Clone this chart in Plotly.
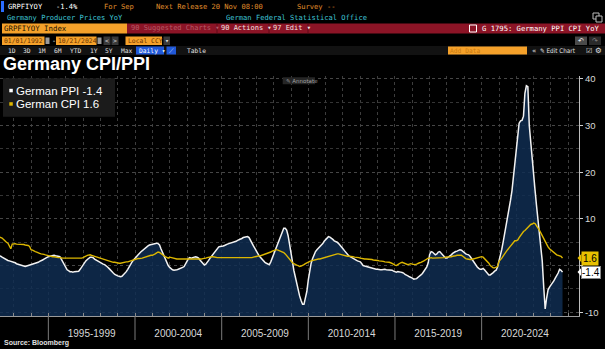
import plotly.graph_objects as go
import pandas as pd

# ---------------- data (monthly, Jan 1992 .. Sep 2024) ----------------
START = "1992-01-01"
PPI = [
    2.4, 2.3, 2.2, 2.0, 1.8, 1.6, 1.4, 1.2, 1.1, 1.0, 0.9, 0.9,          # 1992
    0.8, 0.6, 0.4, 0.3, 0.1, 0.0, -0.1, -0.2, -0.2, -0.1, 0.0, 0.0,      # 1993
    0.1, 0.2, 0.3, 0.4, 0.5, 0.7, 0.9, 1.0, 1.2, 1.4, 1.6, 1.8,          # 1994
    1.9, 2.0, 2.1, 2.2, 2.2, 2.1, 2.0, 1.9, 1.9, 1.4, 0.8, 0.1,          # 1995
    -0.5, -0.9, -1.1, -1.3, -1.3, -1.4, -1.3, -1.3, -1.3, -1.2, -0.8, -0.3,  # 1996
    0.2, 0.6, 1.0, 1.3, 1.6, 1.8, 1.8, 1.7, 1.4, 1.2, 1.1, 0.9,          # 1997
    0.7, 0.5, 0.3, 0.2, 0.0, -0.3, -0.6, -1.0, -1.3, -1.6, -1.9, -2.1,   # 1998
    -2.2, -2.3, -2.4, -2.3, -2.0, -1.6, -1.3, -0.8, -0.2, 0.3, 0.8, 1.2, # 1999
    1.5, 1.9, 2.3, 2.6, 2.9, 3.2, 3.4, 3.6, 3.9, 4.2, 4.4, 4.5,          # 2000
    4.6, 4.7, 4.8, 4.8, 4.7, 4.4, 3.6, 2.8, 2.0, 1.2, 0.5, 0.0,          # 2001
    -0.4, -0.7, -0.9, -1.0, -1.0, -0.9, -0.8, -0.7, -0.5, -0.4, -0.2, 0.4,  # 2002
    1.0, 1.5, 1.7, 1.6, 1.7, 1.8, 1.9, 1.8, 1.6, 1.2, 0.8, 0.4,          # 2003
    0.1, 0.3, 0.6, 1.1, 1.6, 2.0, 2.3, 2.7, 3.1, 3.6, 4.0, 4.1,          # 2004
    4.1, 4.2, 4.3, 4.5, 4.6, 4.7, 4.8, 4.8, 4.9, 5.0, 5.2, 5.4,          # 2005
    5.5, 5.7, 5.8, 6.0, 6.1, 6.2, 6.2, 6.0, 5.5, 4.8, 4.2, 3.6,          # 2006
    3.0, 2.6, 2.1, 1.7, 1.3, 1.0, 0.7, 0.5, 0.3, 0.2, 0.8, 1.6,          # 2007
    2.6, 3.4, 4.2, 5.0, 5.9, 6.8, 7.6, 8.0, 8.0, 7.6, 6.4, 4.8,          # 2008
    2.8, 0.8, -1.0, -2.6, -4.0, -5.2, -6.5, -7.5, -8.3, -8.3, -7.0, -5.5,  # 2009
    -3.0, -1.0, 0.5, 1.5, 2.3, 3.0, 3.4, 3.7, 4.0, 4.3, 4.7, 5.2,        # 2010
    5.6, 6.0, 6.2, 6.1, 5.9, 5.6, 5.3, 5.2, 5.0, 4.7, 4.4, 4.1,          # 2011
    3.6, 3.2, 2.8, 2.4, 2.1, 1.9, 1.7, 1.6, 1.4, 1.2, 1.0, 0.9,          # 2012
    0.8, 0.4, 0.0, -0.1, -0.2, -0.3, -0.4, -0.5, -0.6, -0.7, -0.8, -0.8, # 2013
    -0.8, -0.9, -0.9, -0.9, -0.8, -0.8, -0.9, -0.9, -0.9, -1.0, -1.0, -1.2,  # 2014
    -1.3, -1.4, -1.3, -1.3, -1.4, -1.5, -1.6, -1.9, -2.0, -2.2, -2.4, -2.5,  # 2015
    -2.7, -2.9, -2.9, -2.8, -2.5, -2.3, -2.0, -1.7, -1.3, -0.8, -0.3, 0.6,   # 2016
    2.4, 3.0, 2.9, 2.6, 2.3, 2.5, 2.9, 3.0, 2.6, 2.2, 1.8, 1.6,          # 2017
    1.6, 1.8, 2.0, 2.3, 2.6, 2.9, 3.0, 3.1, 3.2, 3.4, 3.3, 3.0,          # 2018
    2.6, 2.5, 2.4, 2.3, 2.0, 1.5, 1.0, 0.5, 0.0, -0.3, -0.6, -0.8,       # 2019
    -0.8, -0.6, -0.9, -1.3, -1.8, -2.0, -2.0, -1.8, -1.5, -1.2, -1.0, -0.3,  # 2020
    1.0, 2.0, 3.5, 5.2, 6.8, 8.4, 10.2, 12.0, 14.0, 16.0, 19.0, 22.5,    # 2021
    25.5, 28.5, 30.5, 31.0, 31.1, 32.0, 36.9, 38.5, 38.3, 30.0, 26.0, 22.5,  # 2022
    19.0, 16.0, 13.0, 10.0, 7.0, 4.5, 1.0, -4.5, -9.3, -7.0, -5.2, -4.6, # 2023
    -4.2, -3.7, -3.3, -2.7, -2.2, -1.6, -0.8, -1.0, -1.4,                # 2024
]
CPI = [
    6.3, 6.2, 6.1, 6.0, 5.9, 5.6, 5.2, 5.0, 4.8, 4.2, 3.6, 4.6,          # 1992
    4.7, 4.7, 4.6, 4.6, 4.6, 4.5, 4.5, 4.5, 4.4, 4.4, 4.3, 4.1,          # 1993
    3.4, 3.3, 3.1, 3.0, 2.9, 2.7, 2.6, 2.5, 2.5, 2.4, 2.3, 2.2,          # 1994
    2.1, 2.0, 2.0, 1.9, 1.9, 1.8, 1.8, 1.7, 1.7, 1.6, 1.6, 1.6,          # 1995
    1.6, 1.6, 1.5, 1.5, 1.5, 1.5, 1.5, 1.5, 1.5, 1.5, 1.5, 1.6,          # 1996
    1.7, 1.8, 2.0, 2.2, 2.3, 2.3, 2.2, 2.1, 2.0, 1.8, 1.7, 1.6,          # 1997
    1.5, 1.4, 1.3, 1.2, 1.1, 1.1, 1.0, 0.9, 0.8, 0.7, 0.7, 0.6,          # 1998
    0.6, 0.5, 0.5, 0.6, 0.6, 0.7, 0.8, 0.8, 0.9, 1.0, 1.1, 1.3,          # 1999
    1.3, 1.4, 1.5, 1.5, 1.5, 1.6, 1.7, 1.8, 2.0, 2.1, 2.2, 2.2,          # 2000
    2.2, 2.3, 2.5, 2.7, 2.9, 2.8, 2.5, 2.3, 2.1, 1.9, 1.7, 1.6,          # 2001
    1.8, 1.7, 1.6, 1.5, 1.4, 1.4, 1.4, 1.4, 1.3, 1.3, 1.3, 1.3,          # 2002
    1.4, 1.4, 1.4, 1.3, 1.3, 1.3, 1.3, 1.3, 1.3, 1.4, 1.4, 1.5,          # 2003
    1.5, 1.6, 1.7, 1.8, 1.9, 1.9, 1.9, 1.8, 1.8, 1.7, 1.7, 1.7,          # 2004
    1.7, 1.7, 1.6, 1.6, 1.6, 1.6, 1.7, 1.7, 1.7, 1.7, 1.6, 1.6,          # 2005
    1.6, 1.6, 1.6, 1.6, 1.7, 1.7, 1.7, 1.7, 1.6, 1.7, 1.8, 1.9,          # 2006
    2.0, 2.1, 2.1, 2.1, 2.2, 2.3, 2.4, 2.5, 2.6, 2.7, 2.9, 3.1,          # 2007
    3.2, 3.3, 3.4, 3.3, 3.2, 3.1, 3.0, 2.8, 2.5, 2.1, 1.7, 1.2,          # 2008
    0.8, 0.6, 0.4, 0.2, 0.1, 0.0, -0.2, -0.1, 0.0, 0.2, 0.4, 0.6,        # 2009
    0.8, 0.9, 1.0, 1.1, 1.2, 1.2, 1.3, 1.4, 1.4, 1.5, 1.6, 1.6,          # 2010
    1.7, 1.8, 2.0, 2.1, 2.2, 2.3, 2.3, 2.4, 2.5, 2.5, 2.4, 2.3,          # 2011
    2.2, 2.2, 2.1, 2.0, 2.0, 2.0, 1.9, 1.9, 1.8, 1.8, 1.7, 1.7,          # 2012
    1.6, 1.5, 1.5, 1.4, 1.4, 1.4, 1.3, 1.3, 1.3, 1.2, 1.2, 1.1,          # 2013
    1.1, 1.0, 1.0, 0.9, 0.9, 0.8, 0.8, 0.7, 0.7, 0.6, 0.5, 0.3,          # 2014
    0.1, 0.0, 0.2, 0.5, 0.6, 0.7, 0.6, 0.5, 0.3, 0.2, 0.3, 0.4,          # 2015
    0.3, 0.2, 0.2, 0.3, 0.5, 0.6, 0.7, 0.8, 1.0, 1.2, 1.4, 1.6,          # 2016
    1.6, 1.7, 1.6, 1.6, 1.6, 1.7, 1.7, 1.7, 1.7, 1.7, 1.7, 1.8,          # 2017
    1.8, 1.8, 1.8, 1.9, 2.0, 2.0, 2.1, 2.2, 2.2, 2.3, 2.2, 2.0,          # 2018
    1.7, 1.5, 1.4, 1.3, 1.3, 1.3, 1.4, 1.5, 1.5, 1.6, 1.7, 1.8,          # 2019
    1.9, 1.8, 1.5, 1.2, 0.8, 0.5, 0.0, -0.3, -0.5, -0.5, -0.4, -0.2,     # 2020
    0.9, 1.2, 1.6, 2.1, 2.6, 3.0, 3.4, 3.8, 4.2, 4.6, 5.0, 5.3,          # 2021
    5.3, 5.5, 6.0, 6.5, 7.0, 7.3, 7.5, 7.8, 8.3, 8.6, 8.8, 8.9,          # 2022
    9.1, 9.0, 8.6, 8.1, 7.6, 7.0, 6.4, 5.8, 5.0, 4.4, 4.0, 3.6,          # 2023
    3.3, 3.0, 2.8, 2.5, 2.3, 2.2, 2.1, 2.0, 1.6,                         # 2024
]
PPI_NAME = "German PPI"
CPI_NAME = "German CPI"
BAND_STARTS = [1995, 2000, 2005, 2010, 2015, 2020]
BAND_LABELS = ["1995-1999", "2000-2004", "2005-2009", "2010-2014", "2015-2019", "2020-2024"]
Y_TICKS = [-10, 0, 10, 20, 30, 40]
Y_TICK_TEXT = ["-10", "", "10", "20", "30", "40"]
Y_RANGE = [-10.8, 40.6]
X_RANGE = ["1992-03-18", "2025-08-14"]

# ---------------- geometry helpers ----------------
W, H = 605, 349
ML, MR, MT, MB = 0, 26, 76, 33
PW, PH = W - ML - MR, H - MT - MB


def P(px):
    return (px - ML) / PW


def Q(py):
    return (H - MB - py) / PH


ppi_dates = pd.date_range(START, periods=len(PPI), freq="MS")
cpi_dates = pd.date_range(START, periods=len(CPI), freq="MS")

NAVY = "rgba(15,45,82,0.84)"
YEL = "#dcb600"
WHITE = "#f2f2f2"
AMBER = "#e0902c"
CYAN = "#3fc4d6"
ORANGE = "#f5a12a"
RED = "#8c1426"
MONO = "DejaVu Sans Mono"
SANS = "Liberation Sans"

fig = go.Figure()
fig.add_trace(go.Scatter(x=ppi_dates, y=[Y_RANGE[0]] * len(PPI), mode="lines",
                         line=dict(width=0, color="rgba(0,0,0,0)"), hoverinfo="skip",
                         showlegend=False))
fig.add_trace(go.Scatter(x=ppi_dates, y=PPI, mode="lines", name=PPI_NAME,
                         line=dict(color=WHITE, width=1.5), fill="tonexty",
                         fillcolor=NAVY, showlegend=False))
fig.add_trace(go.Scatter(x=cpi_dates, y=CPI, mode="lines", name=CPI_NAME,
                         line=dict(color=YEL, width=1.4), showlegend=False))

shapes = []
annos = []


def box(x0, y0, x1, y1, color, line=None):
    shapes.append(dict(type="rect", xref="paper", yref="paper",
                       x0=P(x0), x1=P(x1), y0=Q(y1), y1=Q(y0),
                       fillcolor=color, line=dict(width=0) if line is None else line,
                       layer="above"))


def txt(x, y, s, color, size=7.1, family=MONO, anchor="left", bold=False):
    if bold:
        s = "<b>" + s + "</b>"
    annos.append(dict(xref="paper", yref="paper", x=P(x), y=Q(y), text=s,
                      showarrow=False, xanchor=anchor, yanchor="middle",
                      font=dict(color=color, size=size, family=family),
                      borderpad=0))


# ----- row 1 -----
box(1, 1, 4, 12, "#2a6cff")
txt(6.5, 6.7, "GRPFIYOY", "#ffffff")
txt(55, 6.7, "-1.4%", "#ffffff")
txt(102.5, 6.7, "For Sep", AMBER)
txt(155, 6.7, "Next Release 20 Nov 08:00", AMBER)
txt(296, 6.7, "Survey --", AMBER)
# ----- row 2 -----
txt(6, 17.3, "Germany Producer Prices YoY", CYAN)
txt(225, 17.3, "German Federal Statistical Office", CYAN)
box(593, 13, 599, 19, "rgba(0,0,0,0)", line=dict(color="#bbbbbb", width=1))
box(596, 16, 602, 22, "#000000", line=dict(color="#bbbbbb", width=1))
# ----- row 3 -----
box(2, 23.5, 127, 33.5, ORANGE)
txt(3, 28.5, "GRPFIYOY Index", "#1a1200", size=7.4)
box(127, 23.5, 605, 33.5, RED)
txt(130, 28.5, "90 Suggested Charts ▾", "#b55a67", size=7)
for xd in [216.5, 268.5, 307.5]:
    box(xd, 23.5, xd + 1, 33.5, "#5e0a17")
txt(219.5, 28.5, "90 Actions ▾", "#f3e0e0", size=7)
txt(271.5, 28.5, "97 Edit ▾", "#f3e0e0", size=7)
box(469.5, 25, 476.5, 32, "rgba(0,0,0,0)", line=dict(color="#ffffff", width=1))
txt(481, 28.5, "G 1795: Germany PPI CPI YoY", "#ffffff", size=7.2)
# ----- row 4 -----
box(2, 36.5, 44.5, 45, ORANGE)
txt(3, 40.8, "01/01/1992", "#6a3300", size=6.4)
box(45.5, 37.5, 49.5, 44, "#9a9a9a")
txt(51, 40.8, "-", "#ffffff", size=6.8)
box(56, 36.5, 96.5, 45, ORANGE)
txt(57, 40.8, "10/21/2024", "#6a3300", size=6.4)
box(97.5, 37.5, 101.5, 44, "#9a9a9a")
box(103.5, 36.5, 110.5, 45, "#3a3a3a")
txt(107, 40.8, "<", "#dddddd", size=6.5, anchor="center")
box(111.5, 36.5, 118.5, 45, "#3a3a3a")
txt(115, 40.8, ">", "#dddddd", size=6.5, anchor="center")
box(125.5, 36.5, 162, 45, ORANGE)
txt(126.5, 40.8, "Local CCY", "#6a3300", size=6.4)
box(163.5, 36.5, 170, 45, "#3a3a3a")
txt(166.8, 40.8, "▾", "#dddddd", size=6.5, anchor="center")
box(575, 36.5, 587, 45, "#4a4a4a")
txt(581, 40.8, "↶", "#ffffff", size=7, family="DejaVu Sans", anchor="center")
box(589, 36.5, 601, 45, "#2a2a2a")
txt(595, 40.8, "↷", "#888888", size=7, family="DejaVu Sans", anchor="center")
# ----- row 5 -----
box(0, 46, 605, 55, "#121212")
for lbl, xx in [("1D", 7), ("3D", 21.5), ("1M", 36.5), ("6M", 52.5), ("YTD", 69),
                ("1Y", 88.5), ("5Y", 103.5), ("Max", 119.5)]:
    txt(xx, 50.5, lbl, "#e2e2e2", size=6.3)
box(136, 46.5, 164, 54.5, "#2058d8")
txt(138, 50.5, "Daily ▾", "#ffffff", size=6.3)
box(166.5, 46.5, 176, 54.5, "#2058d8")
txt(171.2, 50.5, "⟋", "#cfe0ff", size=6.5, family="DejaVu Sans", anchor="center")
txt(186, 50.5, "Table", "#e2e2e2", size=6.3)
box(448, 46.5, 527, 54.5, ORANGE)
txt(449, 50.5, "Add Data", "#c97a10", size=6.3)
txt(530.5, 50.5, "«", "#e2e2e2", size=7, family="DejaVu Sans")
txt(539, 50.5, "✎ Edit Chart", "#e2e2e2", size=6.3, family="DejaVu Sans Condensed, DejaVu Sans")
txt(585, 50.5, "☑", "#e2e2e2", size=7, family="DejaVu Sans")
txt(594, 50.5, "⚙", "#e2e2e2", size=7.5, family="DejaVu Sans")

# ----- title, legend, annotate button -----
txt(2, 63.5, "Germany CPI/PPI", "#ffffff", size=18, family=SANS, bold=True)
box(3, 78.3, 115, 116.7, "#1b1b1b")
box(9.3, 88.8, 12.8, 92.3, "#ffffff")
box(9.3, 102.2, 12.8, 105.7, YEL)
txt(15, 90.6, f"{PPI_NAME} {PPI[-1]}", "#ffffff", size=11.5, family=SANS)
txt(15, 104.0, f"{CPI_NAME} {CPI[-1]}", "#ffffff", size=11.5, family=SANS)
box(282.7, 77.3, 315, 84.3, "#262626")
txt(285, 80.8, "✎ Annotate", "#a0a0a0", size=5.5, family="DejaVu Sans")

# ----- x band separators -----
for yr in BAND_STARTS:
    shapes.append(dict(type="line", xref="x", yref="paper",
                       x0=f"{yr}-01-01", x1=f"{yr}-01-01", y0=0, y1=Q(340),
                       line=dict(color="#7a7a7a", width=1)))
band_mids = [pd.Timestamp(f"{yr}-01-01") + pd.DateOffset(months=30) for yr in BAND_STARTS]

# ----- last value labels with pointers -----
for val, bg in [(CPI[-1], "#e8c000"), (PPI[-1], "#ffffff")]:
    shapes.append(dict(type="path", xref="paper", yref="y",
                       path=f"M {P(577.5)} {val} L {P(581.5)} {val + 0.95} L {P(581.5)} {val - 0.95} Z",
                       fillcolor=bg, line=dict(width=0), layer="above"))
annos.append(dict(xref="paper", yref="y", x=P(581), y=CPI[-1], text=f"{CPI[-1]}",
                  showarrow=False, xanchor="left", yanchor="middle",
                  bgcolor="#e8c000", font=dict(color="#000000", size=10, family=SANS),
                  borderpad=1))
annos.append(dict(xref="paper", yref="y", x=P(581), y=PPI[-1], text=f"{PPI[-1]}",
                  showarrow=False, xanchor="left", yanchor="middle",
                  bgcolor="#ffffff", bordercolor="#888888", borderwidth=1,
                  font=dict(color="#000000", size=10, family=SANS), borderpad=0))
# Source
txt(3, 343.3, "Source: Bloomberg", "#e0e0e0", size=7, family=SANS, bold=True)

fig.update_layout(
    width=W, height=H,
    margin=dict(l=ML, r=MR, t=MT, b=MB, pad=0),
    paper_bgcolor="#000000", plot_bgcolor="#000000",
    showlegend=False,
    shapes=shapes, annotations=annos,
    xaxis=dict(type="date", range=X_RANGE, tickmode="array", tickvals=band_mids,
               ticktext=BAND_LABELS, ticks="", showgrid=False, zeroline=False,
               showline=True, linecolor="#9a9a9a", linewidth=1,
               tickfont=dict(family=SANS, size=10, color="#d8d8d8"),
               ticklabelstandoff=8,
               minor=dict(tickmode="linear", tick0="1992-01-01", dtick="M12",
                          showgrid=True, gridcolor="#3d3d3d", griddash="dot",
                          gridwidth=1, ticks="inside", ticklen=3, tickcolor="#8a8a8a")),
    yaxis=dict(side="right", range=Y_RANGE, tickmode="array", tickvals=Y_TICKS,
               ticktext=Y_TICK_TEXT, showgrid=True, gridcolor="#464646", griddash="dot",
               gridwidth=1, zeroline=False, ticks="outside", ticklen=3,
               tickcolor="#cfcfcf", showline=True, linecolor="#bdbdbd", linewidth=1,
               tickfont=dict(family=SANS, size=9.5, color="#d8d8d8"),
               minor=dict(tickmode="linear", tick0=0, dtick=5, showgrid=True,
                          gridcolor="#353535", griddash="dot", gridwidth=1)),
)

fig.write_html("out.html", config={"displayModeBar": False})
